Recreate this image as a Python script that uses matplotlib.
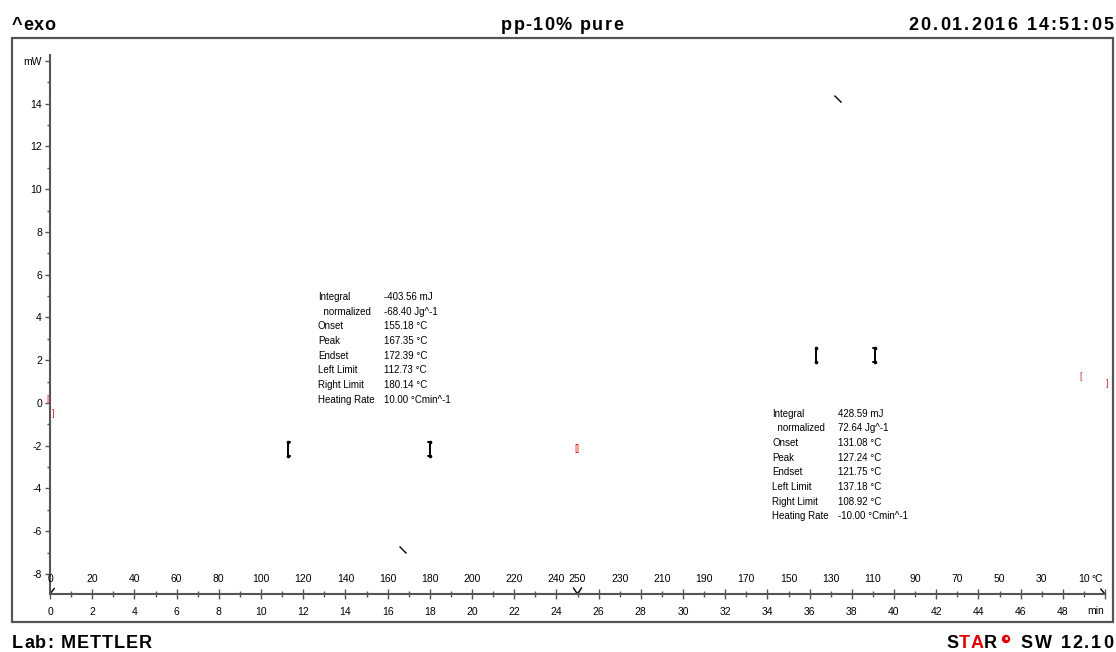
import matplotlib
matplotlib.use('Agg')
import matplotlib.pyplot as plt
from matplotlib.patches import Rectangle
from matplotlib.ticker import MultipleLocator

W, H = 1116, 652
NARROW = ['Liberation Sans', 'DejaVu Sans']
HEAD = ['Liberation Sans', 'DejaVu Sans']
AXCOL = '#555555'
SMALL = 7.5

# temperature programme: 0 -> 250 degC at 10 K/min, then back down
heat_rate = 10.0
t_switch = 25.0
T_top = 250.0

# axis ticks
time_ticks = [0, 2, 4, 6, 8, 10, 12, 14, 16, 18, 20, 22, 24, 26, 28, 30, 32, 34,
              36, 38, 40, 42, 44, 46, 48]
temp_tick_t = [0, 2, 4, 6, 8, 10, 12, 14, 16, 18, 20, 22, 24, 25, 27, 29, 31, 33,
               35, 37, 39, 41, 43, 45, 47, 49]
temp_tick_lab = ['0', '20', '40', '60', '80', '100', '120', '140', '160', '180',
                 '200', '220', '240', '250', '230', '210', '190', '170', '150',
                 '130', '110', '90', '70', '50', '30', '10']
mw_ticks = [-8, -6, -4, -2, 0, 2, 4, 6, 8, 10, 12, 14]

# visible curve pieces (min, mW)
frag_hi_t = [37.20, 37.49]
frag_hi_mw = [14.36, 14.08]
frag_lo_t = [16.59, 16.87]
frag_lo_mw = [-6.74, -7.02]

# integration limits (degC) and level of the limit marks (mW)
melt_limits = [112.73, 180.14]
melt_mark_mw = -2.15
cryst_limits = [137.18, 108.92]
cryst_mark_mw = 2.25

# segment markers
seg_t = [-0.10, 0.14, 24.98, 48.86, 50.09]
seg_mw = [0.14, -0.51, -2.15, 1.22, 0.89]
seg_txt = ['[', ']', '[]', '[', ']']

res_labels = ['Integral', '  normalized', 'Onset', 'Peak', 'Endset',
              'Left Limit', 'Right Limit', 'Heating Rate']
melt_values = ['-403.56 mJ', '-68.40 Jg^-1', '155.18 °C', '167.35 °C',
               '172.39 °C', '112.73 °C', '180.14 °C', '10.00 °Cmin^-1']
cryst_values = ['428.59 mJ', '72.64 Jg^-1', '131.08 °C', '127.24 °C',
                '121.75 °C', '137.18 °C', '108.92 °C', '-10.00 °Cmin^-1']


def heat_time(T):
    return T / heat_rate


def cool_time(T):
    return t_switch + (T_top - T) / heat_rate


fig = plt.figure(figsize=(W / 100, H / 100), dpi=100)
ax = fig.add_axes([50 / W, (H - 594) / H, 1055 / W, (594 - 54.6) / H])
ax.set_xlim(0, 50)
ax.set_ylim(-8.94, 16.3)
ax.patch.set_visible(False)
for s in ['top', 'right']:
    ax.spines[s].set_visible(False)
for s in ['left', 'bottom']:
    ax.spines[s].set_color(AXCOL)
    ax.spines[s].set_linewidth(1.5)
ybot = ax.get_ylim()[0]

ax.set_yticks(mw_ticks + [16])
ax.set_yticklabels([str(v) for v in mw_ticks] + ['mW'], family=NARROW)
ax.yaxis.set_minor_locator(MultipleLocator(1))
ax.tick_params(axis='y', which='major', direction='out', length=3.8, width=1,
               pad=2, labelsize=SMALL, color=AXCOL)
ax.tick_params(axis='y', which='minor', direction='out', length=2.4, width=1,
               color=AXCOL)

ax.set_xticks(time_ticks + [50])
ax.set_xticklabels([str(v) for v in time_ticks] + [''], family=NARROW)
ax.xaxis.set_minor_locator(MultipleLocator(1))
ax.tick_params(axis='x', which='major', direction='inout', length=6.5, width=1,
               pad=6, labelsize=SMALL, color=AXCOL)
ax.tick_params(axis='x', which='minor', direction='inout', length=4.3, width=1,
               color=AXCOL)

for t, lab in zip(temp_tick_t, temp_tick_lab):
    ax.annotate(lab, (t, ybot), xytext=(0, 10.5), textcoords='offset points',
                ha='center', va='center', fontsize=SMALL, family=NARROW)
ax.annotate('°C', (50, ybot), xytext=(-1.5, 10.5), textcoords='offset points',
            ha='right', va='center', fontsize=SMALL, family=NARROW)
ax.annotate('min', (50, ybot), xytext=(-1, -12.5), textcoords='offset points',
            ha='right', va='center', fontsize=SMALL, family=NARROW)

# little arrows on the time/temperature axis
ax.plot([0, 0.2], [ybot, ybot + 0.26], color='black', lw=1, clip_on=False)
ax.plot([t_switch - 0.19, t_switch, t_switch + 0.19],
        [ybot + 0.28, ybot, ybot + 0.28], color='black', lw=1, clip_on=False)
ax.plot([49.8, 50], [ybot + 0.23, ybot], color='black', lw=1, clip_on=False)

# curve
ax.plot(frag_hi_t, frag_hi_mw, color='black', lw=1)
ax.plot(frag_lo_t, frag_lo_mw, color='black', lw=1)


def bracket(t, y, side):
    d, h = 0.08 * side, 0.33
    ax.plot([t + d, t, t, t + d], [y + h, y + h, y - h, y - h],
            color='black', lw=1.4, solid_capstyle='round', clip_on=False)
    ax.plot([t, t], [y + h, y - h], ls='none', marker='o', ms=1.6,
            color='black', clip_on=False)


bracket(heat_time(melt_limits[0]), melt_mark_mw, 1)
bracket(heat_time(melt_limits[1]), melt_mark_mw, -1)
bracket(cool_time(cryst_limits[0]), cryst_mark_mw, 1)
bracket(cool_time(cryst_limits[1]), cryst_mark_mw, -1)

for t, y, s in zip(seg_t, seg_mw, seg_txt):
    ax.text(t, y, s, color='#e02020', fontsize=6.5, ha='center', va='center',
            family=NARROW, clip_on=False)


def result_block(t_lab, t_val, y0, values):
    for i, (lab, val) in enumerate(zip(res_labels, values)):
        for t, s in [(t_lab, lab), (t_val, val)]:
            ax.annotate(s, (t, y0), xytext=(0, -i * 10.55),
                        textcoords='offset points', ha='left', va='center',
                        fontsize=7, family=NARROW)


result_block(12.70, 15.83, 4.96, melt_values)
result_block(34.22, 37.35, -0.51, cryst_values)

# outer frame
fig.add_artist(Rectangle((12 / W, 30 / H), 1101 / W, 584 / H,
                         transform=fig.transFigure, fill=False, ec=AXCOL, lw=1.6))

renderer = fig.canvas.get_renderer()


def spaced_text(x, y, s, colors=None, spacing=1.3, ha='left', size=13):
    kw = dict(fontsize=size, fontweight='bold', family=HEAD)
    widths = []
    for ch in s:
        if ch == ' ':
            widths.append(size * 0.3 * 100 / 72)
            continue
        t = fig.text(0, 0, ch, **kw)
        widths.append(t.get_window_extent(renderer).width)
        t.remove()
    total = sum(widths) + spacing * (len(s) - 1)
    if ha == 'right':
        x -= total
    elif ha == 'center':
        x -= total / 2
    colors = colors or ['black'] * len(s)
    for ch, w, c in zip(s, widths, colors):
        if ch != ' ':
            fig.text(x / W, 1 - y / H, ch, color=c, va='baseline', ha='left', **kw)
        x += w + spacing


spaced_text(12, 30, '^exo', spacing=0.5)
spaced_text(562, 30, 'pp-10% pure', ha='center')
spaced_text(1113, 30, '20.01.2016 14:51:05', ha='right', spacing=2.0)
spaced_text(12, 648, 'Lab: METTLER', spacing=1.0)
spaced_text(1113, 648, 'SW 12.10', ha='right', spacing=1.8)
spaced_text(997, 648, 'STAR', colors=['black', '#e00000', '#e00000', 'black'],
            ha='right', spacing=0.4)
fig.text(1006 / W, 1 - 639 / H, 'e', color='white', fontsize=3.5, ha='center',
         va='center', fontweight='bold',
         bbox=dict(boxstyle='circle,pad=0.35', fc='#e00000', ec='none'))

fig.savefig('out.png', dpi=100)
